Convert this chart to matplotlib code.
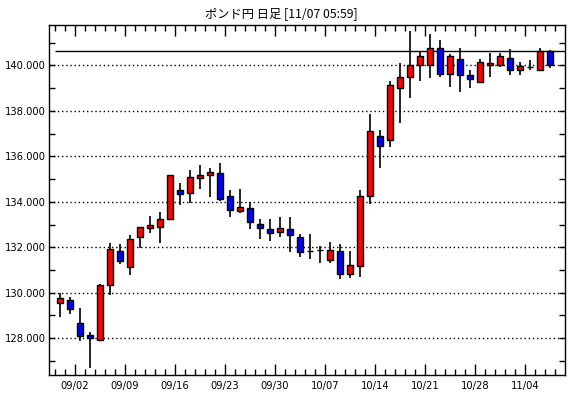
import matplotlib
matplotlib.use("Agg")
import matplotlib.pyplot as plt
from matplotlib.ticker import FixedLocator, MultipleLocator, FormatStrFormatter


dates = ["08/30",
         "09/02", "09/03", "09/04", "09/05", "09/06",
         "09/09", "09/10", "09/11", "09/12", "09/13",
         "09/16", "09/17", "09/18", "09/19", "09/20",
         "09/23", "09/24", "09/25", "09/26", "09/27",
         "09/30", "10/01", "10/02", "10/03", "10/04",
         "10/07", "10/08", "10/09", "10/10", "10/11",
         "10/14", "10/15", "10/16", "10/17", "10/18",
         "10/21", "10/22", "10/23", "10/24", "10/25",
         "10/28", "10/29", "10/30", "10/31", "11/01",
         "11/04", "11/05", "11/06", "11/07"]

opens = [129.53, 129.70, 128.66, 128.14, 127.90, 130.36, 131.85, 131.15, 132.44, 132.83,
         132.87, 133.25, 134.51, 134.38, 135.03, 135.20, 135.25, 134.26, 133.60, 133.73,
         133.03, 132.81, 132.69, 132.81, 132.47, 131.82, 131.86, 131.46, 131.83, 130.83,
         131.17, 134.24, 136.90, 136.72, 139.02, 139.49, 140.04, 140.04, 140.76, 139.64,
         140.27, 139.57, 139.29, 140.04, 140.04, 140.31, 139.78, 139.91, 139.82, 140.62]
closes = [129.75, 129.27, 128.08, 128.01, 130.36, 131.91, 131.38, 132.35, 132.87, 132.97,
          133.26, 135.16, 134.33, 135.09, 135.17, 135.29, 134.12, 133.64, 133.77, 133.12,
          132.86, 132.64, 132.86, 132.55, 131.77, 131.84, 131.88, 131.87, 130.83, 131.23,
          134.27, 137.10, 136.46, 139.16, 139.51, 140.04, 140.40, 140.76, 139.64, 140.41,
          139.60, 139.42, 140.13, 140.10, 140.41, 139.78, 139.96, 139.94, 140.62, 140.04]
highs = [130.00, 129.79, 129.34, 128.27, 130.40, 132.17, 132.15, 132.54, 132.90, 133.36,
         133.55, 135.20, 134.81, 135.39, 135.61, 135.49, 135.70, 134.52, 134.57, 134.00,
         133.25, 133.25, 133.32, 133.35, 132.57, 132.57, 132.06, 132.23, 132.13, 131.84,
         134.53, 137.86, 137.18, 139.30, 140.12, 141.52, 140.60, 141.39, 141.12, 140.49,
         140.77, 139.79, 140.28, 140.56, 140.53, 140.72, 140.13, 140.24, 140.77, 140.68]
lows = [128.95, 129.07, 127.86, 126.67, 127.88, 129.92, 131.27, 130.79, 131.98, 132.64,
        132.17, 133.20, 133.86, 133.94, 134.55, 134.19, 134.04, 133.32, 133.49, 132.80,
        132.38, 132.27, 132.45, 131.77, 131.58, 131.47, 131.29, 131.32, 130.60, 130.65,
        130.70, 133.92, 135.50, 136.43, 137.45, 138.56, 139.30, 139.45, 139.49, 139.05,
        138.83, 139.00, 139.29, 139.47, 139.94, 139.57, 139.57, 139.79, 139.82, 139.88]

xtick_labels = ["09/02", "09/09", "09/16", "09/23", "09/30",
                "10/07", "10/14", "10/21", "10/28", "11/04"]
current_price = 140.62

x = list(range(len(dates)))
colors = ["#ff0000" if c >= o else "#0000ff" for o, c in zip(opens, closes)]
bottoms = [min(o, c) for o, c in zip(opens, closes)]
heights = [abs(c - o) for o, c in zip(opens, closes)]

fig = plt.figure(figsize=(5.70, 3.98), dpi=100)
ax = fig.add_axes([49 / 570, 1 - 374.5 / 398, 516 / 570, 349.5 / 398])

# wicks then bodies
ax.vlines(x, lows, highs, color="black", linewidth=1.2, zorder=2)
ax.bar(x, heights, bottom=bottoms, width=0.6, color=colors,
       edgecolor="black", linewidth=1.0, zorder=3)

ax.hlines(current_price, -0.5, len(dates) + 1, color="black", linewidth=1.0, zorder=1)

ax.set_xlim(-1.1, 50.5)
ax.set_ylim(126.4, 141.78)

# y axis
ax.yaxis.set_major_locator(MultipleLocator(2))
ax.yaxis.set_minor_locator(MultipleLocator(1))
ax.yaxis.set_major_formatter(FormatStrFormatter("%.3f"))
ax.grid(axis="y", which="major", linestyle=(0, (1, 2)), color="black", linewidth=1.0)

# x axis: weekly labels, tick per candle
major_pos = [dates.index(d) + 0.5 for d in xtick_labels]
ax.xaxis.set_major_locator(FixedLocator(major_pos))
ax.set_xticklabels(xtick_labels)
ax.xaxis.set_minor_locator(FixedLocator([i + 0.5 for i in range(-1, len(dates))]))

ax.tick_params(axis="both", which="both", direction="in", top=True, right=True,
               color="black", width=1.0)
ax.tick_params(axis="x", which="major", length=8, pad=5, labelsize=7.2)
ax.tick_params(axis="x", which="minor", length=4)
ax.tick_params(axis="y", which="major", length=4, pad=2, labelsize=7.2)
ax.tick_params(axis="y", which="minor", length=4)

for s in ax.spines.values():
    s.set_linewidth(1.0)
    s.set_color("black")

fig.text(281 / 570, 1 - 14 / 398, "ポンド円 日足 [11/07 05:59]",
         family=["Noto Sans CJK JP", "DejaVu Sans"], fontsize=8.8,
         ha="center", va="center")

fig.savefig("out.png", dpi=100)
